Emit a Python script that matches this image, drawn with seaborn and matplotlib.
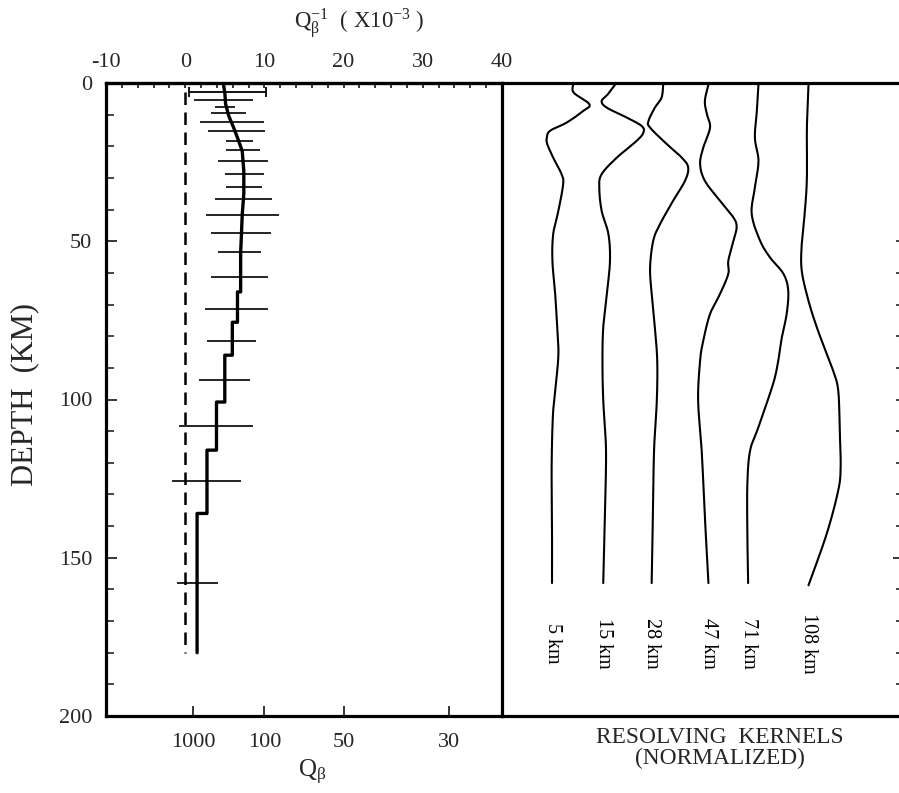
import numpy as np
import matplotlib
matplotlib.use("Agg")
import matplotlib.pyplot as plt
import seaborn as sns
from matplotlib.ticker import MultipleLocator, FixedLocator, NullFormatter

# ---- attenuation profile: Q_beta^-1 (x 10^-3) against depth (km) ----
smooth_depth = [0, 3, 6.6, 10.4, 14, 18.3, 21.5, 27.8, 35, 41.6, 48, 53.6, 56]
smooth_qinv = [4.8, 5.0, 5.1, 5.5, 6.1, 6.75, 7.2, 7.4, 7.4, 7.2, 7.1, 7.0, 7.0]
layer_top = [56, 66, 75.6, 86, 100.8, 116, 136]
layer_bottom = [66, 75.6, 86, 100.8, 116, 136, 180]
layer_qinv = [7.0, 6.6, 5.95, 5.0, 3.95, 2.75, 1.5]

# error bars (depth, lower, upper) in Q_beta^-1 units
err_depth = [5.4, 7.5, 9.6, 12.2, 15.1, 18.3, 21.2, 24.6, 28.8, 33.0, 36.7,
             41.7, 47.4, 53.5, 61.2, 71.4, 81.4, 93.8, 108.5, 125.9, 158.0]
err_lo = [1.1, 3.8, 3.3, 1.9, 2.9, 5.2, 5.1, 4.2, 5.0, 5.2, 3.7,
          2.6, 3.3, 4.2, 3.2, 2.5, 2.7, 1.8, -0.8, -1.7, -1.0]
err_hi = [8.6, 6.3, 7.7, 9.9, 10.1, 8.6, 9.4, 10.4, 9.9, 9.7, 10.9,
          11.8, 10.8, 9.6, 10.4, 10.4, 8.9, 8.2, 8.6, 7.0, 4.1]
cap_depth = [2.8]
cap_lo = [0.5]
cap_hi = [10.2]

# zero-attenuation reference
zero_depth = [3, 180]
zero_qinv = [0, 0]

# axis ticks
qinv_ticks = [-10, 0, 10, 20, 30, 40]
q_ticks = [1000, 100, 50, 30]

# ---- resolving kernels (normalized amplitude, panel units 0-100) ----
kernel_labels = ["5 km", "15 km", "28 km", "47 km", "71 km", "108 km"]

k5_depth = [0.5, 3.1, 6.7, 8.8, 12.5, 15.1, 17.3, 19.3, 23.6, 28.8, 32, 40.4,
            47.7, 56.2, 66.7, 77.2, 86, 97.2, 105.6, 121.4, 137.1, 158]
k5_amp = [17.9, 18.1, 22.0, 20.5, 16.3, 12.1, 11.3, 11.4, 12.9, 15.0, 15.4, 14.2,
          12.9, 12.7, 13.4, 13.9, 14.2, 13.4, 12.8, 12.5, 12.6, 12.6]

k15_depth = [0.5, 3.5, 5.7, 7.8, 10.9, 13.6, 15.7, 18.3, 23.6, 28.8, 33, 40.4,
             47.7, 56.2, 66.7, 77.2, 87.7, 100.3, 116.1, 137.1, 158]
k15_amp = [28.5, 26.7, 25.1, 26.4, 31.4, 35.2, 35.6, 33.9, 28.9, 25.1, 24.5, 25.1,
           26.8, 27.2, 26.4, 25.5, 25.3, 25.5, 26.2, 25.9, 25.5]

k28_depth = [0.5, 4.6, 7.8, 12, 14.1, 19.3, 23.6, 26.7, 30.9, 37.2, 44.6, 49.8,
             58.3, 66.7, 77.2, 87.7, 100.3, 116.1, 137.1, 158]
k28_amp = [40.6, 40.2, 38.5, 36.9, 37.3, 41.5, 45.3, 46.9, 46.1, 43.1, 39.8, 38.1,
           37.3, 37.7, 38.5, 39.1, 39.0, 38.3, 38.0, 37.7]

k47_depth = [0.5, 5.7, 9.8, 14.1, 20.4, 25.6, 30.9, 37.2, 42.5, 45.6, 49.8, 56.2,
             60.3, 66.7, 73, 81.4, 87.7, 100.3, 116.1, 137.1, 158]
k47_amp = [52.0, 51.1, 51.6, 52.4, 50.7, 49.9, 51.1, 54.9, 58.3, 59.1, 58.3, 57.0,
           57.0, 54.9, 52.4, 50.7, 49.9, 49.4, 50.3, 51.1, 52.0]

k71_depth = [0.5, 8.8, 17.3, 24.6, 33, 41.4, 49.8, 55.1, 60.3, 65.6, 73, 80.3,
             87.7, 95, 108.7, 116.1, 126.6, 142.4, 158]
k71_amp = [64.6, 64.2, 63.7, 64.6, 63.7, 62.9, 65.0, 67.5, 70.9, 72.1, 71.7, 70.5,
           69.6, 68.3, 64.6, 62.5, 61.8, 61.8, 62.0]

k108_depth = [0.5, 14.1, 29.9, 40.4, 50.9, 59.3, 68.8, 77.2, 85.6, 90.9, 97.2,
              110.8, 121.4, 128.7, 142.4, 158.7]
k108_amp = [77.2, 76.8, 76.8, 76.3, 75.5, 75.5, 77.2, 79.3, 81.8, 83.4, 84.7,
            85.1, 85.3, 84.7, 81.8, 77.2]

kernel_depths = [k5_depth, k15_depth, k28_depth, k47_depth, k71_depth, k108_depth]
kernel_amps = [k5_amp, k15_amp, k28_amp, k47_amp, k71_amp, k108_amp]


def smooth_path(xs, ys, steps=12):
    """Catmull-Rom curve through every given point, for a smooth trace."""
    p = np.column_stack([xs, ys]).astype(float)
    p = np.vstack([p[0], p, p[-1]])
    t = np.linspace(0, 1, steps, endpoint=False)[:, None]
    out = []
    for i in range(1, len(p) - 2):
        p0, p1, p2, p3 = p[i - 1], p[i], p[i + 1], p[i + 2]
        seg = 0.5 * ((2 * p1) + (-p0 + p2) * t
                     + (2 * p0 - 5 * p1 + 4 * p2 - p3) * t ** 2
                     + (-p0 + 3 * p1 - 3 * p2 + p3) * t ** 3)
        out.append(seg)
    out.append(p[-2][None, :])
    out = np.vstack(out)
    return out[:, 0], out[:, 1]


# ---- style ----
sns.set_style("white")
plt.rcParams["font.family"] = ["Liberation Serif", "DejaVu Serif"]
plt.rcParams["mathtext.fontset"] = "custom"
plt.rcParams["mathtext.rm"] = "Liberation Serif"
plt.rcParams["mathtext.it"] = "Liberation Serif:italic"
plt.rcParams["mathtext.bf"] = "Liberation Serif:bold"

W, H = 899, 793
fig = plt.figure(figsize=(W / 100, H / 100), dpi=100)


def frac(x0, y0, x1, y1):
    return [x0 / W, 1 - y1 / H, (x1 - x0) / W, (y1 - y0) / H]


axr = fig.add_axes(frac(502, 83, 899, 716))
ax = fig.add_axes(frac(106, 83, 502, 716))
axr.patch.set_visible(False)
ax.patch.set_visible(False)

ink = "black"
spine_w = 2.3

# ---- left panel ----
prof_depth = list(smooth_depth) + list(np.column_stack([layer_top, layer_bottom]).ravel())
prof_qinv = list(smooth_qinv) + list(np.repeat(layer_qinv, 2))

sns.lineplot(x=zero_qinv, y=zero_depth, ax=ax, color=ink, lw=1.8,
             estimator=None, sort=False, linestyle=(0, (5, 3)))
ax.hlines(err_depth, err_lo, err_hi, color=ink, lw=1.2)
cap_c = (np.array(cap_lo) + np.array(cap_hi)) / 2
ax.errorbar(cap_c, cap_depth, xerr=np.array(cap_hi) - cap_c, fmt="none",
            ecolor=ink, elinewidth=1.3, capsize=3.5, capthick=1.3)
sns.lineplot(x=prof_qinv, y=prof_depth, ax=ax, color=ink, lw=2.4,
             estimator=None, sort=False)

ax.set_xlim(-10, 40)
ax.set_ylim(200, 0)
ax.set_xlabel("")
ax.set_ylabel("")

# bottom axis: Q_beta at positions 1000/Q
ax.xaxis.set_major_locator(FixedLocator([1000.0 / q for q in q_ticks]))
ax.set_xticklabels([str(q) for q in q_ticks], fontsize=16)
ax.tick_params(axis="x", which="major", direction="in", length=7.5, width=1.3,
               pad=12, bottom=True, top=False)

# depth axis
ax.yaxis.set_major_locator(MultipleLocator(50))
ax.yaxis.set_minor_locator(MultipleLocator(10))
ax.tick_params(axis="y", which="major", direction="in", length=8, width=1.3,
               pad=10, labelsize=16, left=True)
ax.tick_params(axis="y", which="minor", direction="in", length=5.5, width=1.2,
               left=True)

# top axis: Q_beta^-1
top = ax.secondary_xaxis("top")
top.set_xticks(qinv_ticks)
top.set_xticklabels([str(v) for v in qinv_ticks], fontsize=16)
top.xaxis.set_minor_locator(MultipleLocator(2))
top.tick_params(axis="x", which="both", direction="in", length=3.5, width=1.3,
                pad=8)
top.spines["top"].set_linewidth(spine_w)

for s in ax.spines.values():
    s.set_linewidth(spine_w)
    s.set_color(ink)

# ---- right panel: resolving kernels ----
for d, a in zip(kernel_depths, kernel_amps):
    sx, sy = smooth_path(a, d)
    sns.lineplot(x=sx, y=sy, ax=axr, color=ink, lw=1.5, estimator=None, sort=False)

for lab, a in zip(kernel_labels, kernel_amps):
    axr.text(a[-1], 177, lab, rotation=-90, ha="center", va="center",
             fontsize=14.5, color=ink)

axr.set_xlim(0, 100)
axr.set_ylim(200, 0)
axr.set_xlabel("")
axr.set_ylabel("")
axr.set_xticks([])
axr.yaxis.tick_right()
axr.yaxis.set_major_locator(FixedLocator([150]))
axr.yaxis.set_minor_locator(FixedLocator([50, 60, 70, 80, 90, 100, 110, 120, 130,
                                          140, 160, 170, 180, 190]))
axr.yaxis.set_major_formatter(NullFormatter())
axr.tick_params(axis="y", which="major", direction="in", length=4.5, width=1.3,
                right=True, left=False)
axr.tick_params(axis="y", which="minor", direction="in", length=2.2, width=1.2,
                right=True, left=False)
axr.spines["left"].set_visible(False)
axr.spines["right"].set_visible(False)
for k in ("top", "bottom"):
    axr.spines[k].set_linewidth(spine_w)
    axr.spines[k].set_color(ink)

# ---- titles ----
fig.text(359 / W, 1 - 24 / H, r"Q$_{\mathrm{\beta}}^{\mathrm{-1}}$  ( X10$^{\mathrm{-3}}$ )",
         ha="center", va="center", fontsize=16.5)
fig.text(312 / W, 1 - 772 / H, r"Q$_{\mathrm{\beta}}$", ha="center", va="center",
         fontsize=18)
fig.text(25 / W, 1 - 394 / H, "DEPTH  (KM)", rotation=90, ha="center",
         va="center", fontsize=22)
fig.text(720 / W, 1 - 748 / H, "RESOLVING  KERNELS\n(NORMALIZED)", ha="center",
         va="center", fontsize=16.8, linespacing=1.05)

fig.savefig("out.png", dpi=100)
